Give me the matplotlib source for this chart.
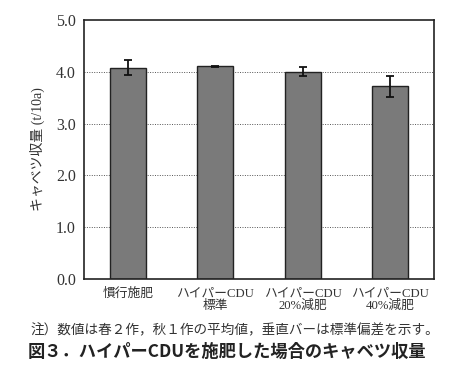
import matplotlib.pyplot as plt
import numpy as np

plt.rcParams['font.family'] = ['Liberation Serif', 'Noto Sans CJK JP']

categories = ["慣行施肥", "ハイパーCDU\n標準", "ハイパーCDU\n20%減肥", "ハイパーCDU\n40%減肥"]
yield_mean = [4.08, 4.11, 4.00, 3.72]
yield_sd = [0.15, 0.01, 0.09, 0.20]
y_ticks = [0.0, 1.0, 2.0, 3.0, 4.0, 5.0]

fig = plt.figure(figsize=(4.65, 3.77), dpi=100)
ax = fig.add_axes([0.181, 0.260, 0.752, 0.687])

x = np.arange(len(categories))
ax.bar(x, yield_mean, width=0.41, color="#7a7a7a", edgecolor="#222222", linewidth=1.0, zorder=2)
ax.errorbar(x, yield_mean, yerr=yield_sd, fmt='none', ecolor="#111111", elinewidth=1.3,
            capsize=3, capthick=1.3, zorder=3)

ax.set_xlim(-0.5, 3.5)
ax.set_ylim(0, 5)
ax.set_yticks(y_ticks)
ax.set_yticklabels([f"{v:.1f}" for v in y_ticks], fontsize=11.5, color="#333333")
ax.set_xticks(x)
ax.set_xticklabels(categories, fontsize=9.2, color="#333333", linespacing=1.05)
ax.tick_params(length=0, pad=6)
for v in y_ticks[1:-1]:
    ax.axhline(v, color="#555555", linestyle=(0, (1, 1.5)), linewidth=0.7, zorder=1)
for s in ax.spines.values():
    s.set_linewidth(1.2)
    s.set_color("#222222")

ax.set_ylabel("キャベツ収量 (t/10a)", fontsize=10, color="#333333", labelpad=8)

fig.text(0.065, 0.124, "注）数値は春２作，秋１作の平均値，垂直バーは標準偏差を示す。",
         fontsize=9.8, color="#333333", va='center', family=['Noto Sans CJK JP'])
fig.text(0.06, 0.066, "図３．ハイパーCDUを施肥した場合のキャベツ収量",
         fontsize=12.4, fontweight='bold', color="#222222", va='center', family=['Noto Sans CJK JP'])

fig.savefig("out.png", dpi=100)
